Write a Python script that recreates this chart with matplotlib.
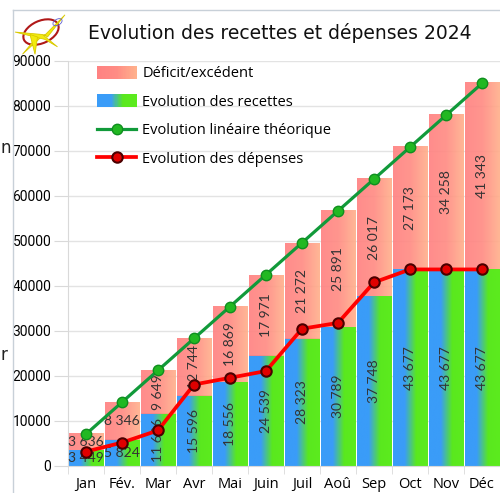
import matplotlib
matplotlib.use('Agg')
import matplotlib.pyplot as plt
import numpy as np
from matplotlib.colors import LinearSegmentedColormap
from matplotlib.legend_handler import HandlerBase
from matplotlib.patches import Rectangle, Ellipse, Polygon

mois = ['Jan', 'Fév.', 'Mar', 'Avr', 'Mai', 'Juin', 'Juil', 'Aoû', 'Sep',
        'Oct', 'Nov', 'Déc']
recettes = [3449, 5824, 11606, 15596, 18556, 24539, 28323, 30789, 37748,
            43677, 43677, 43677]
deficit = [3636, 8346, 9649, 12744, 16869, 17971, 21272, 25891, 26017,
           27173, 34258, 41343]
lineaire = [7085, 14170, 21255, 28340, 35425, 42510, 49595, 56680, 63765,
            70850, 77935, 85020]
depenses = [3200, 5200, 7900, 18100, 19600, 21100, 30500, 31800, 40800,
            43677, 43677, 43677]
horizontal_labels = ['Jan', 'Fév.']

BLUE_GREEN = ['#3a9cf8', '#3a9cf8', '#5ae81e', '#5ceb1e']
PINK_ORANGE = ['#ff8282', '#ff8c84', '#ffb08c']

cmap_rec = LinearSegmentedColormap.from_list('rec', BLUE_GREEN)
cmap_def = LinearSegmentedColormap.from_list('def', PINK_ORANGE)
grad = np.linspace(0, 1, 64).reshape(1, -1)


class GradientHandler(HandlerBase):
    def __init__(self, cmap):
        super().__init__()
        self.cmap = cmap

    def create_artists(self, legend, orig_handle, xdescent, ydescent,
                       width, height, fontsize, trans):
        n = 30
        arts = []
        for k in range(n):
            arts.append(Rectangle((-xdescent + width * k / n, -ydescent),
                                  width / n + 0.3, height,
                                  facecolor=self.cmap(k / (n - 1)),
                                  edgecolor='none', transform=trans))
        return arts


def fmt(v):
    return f'{v:,}'.replace(',', ' ')


fig = plt.figure(figsize=(5.0, 4.93), dpi=100)
ax = fig.add_axes([0.136, 0.0548, 0.864, 0.8215])

x = np.arange(len(mois))
w = 0.485
for i in x:
    ax.imshow(grad, cmap=cmap_rec, aspect='auto', zorder=2,
              extent=[i - w, i + w, 0, recettes[i]])
    ax.imshow(grad, cmap=cmap_def, aspect='auto', zorder=2, alpha=0.92,
              extent=[i - w, i + w, recettes[i], recettes[i] + deficit[i]])

lab_font = dict(fontsize=10, color='#333333', family='Lato', zorder=3,
                ha='center', va='center')
for i in x:
    rot = 0 if mois[i] in horizontal_labels else 90
    ax.text(i, recettes[i] / 2, fmt(recettes[i]), rotation=rot, **lab_font)
    ax.text(i, recettes[i] + deficit[i] / 2, fmt(deficit[i]), rotation=rot,
            **lab_font)

lin_style = dict(color='#119a3a', lw=2.3, marker='o', ms=7.5,
                 mfc='#22b822', mec='#0f8f1f', mew=1)
dep_style = dict(color='#ff0000', lw=2.7, marker='o', ms=7.5,
                 mfc='#e00000', mec='#4a0000', mew=1.5)
ax.plot(x, lineaire, zorder=4, **lin_style)
ax.plot(x, depenses, zorder=5, **dep_style)

h_def = Rectangle((0, 0), 1, 1)
h_rec = Rectangle((0, 0), 1, 1)
h_lin, = ax.plot([], [], **lin_style)
h_dep, = ax.plot([], [], **dep_style)
leg = ax.legend([h_def, h_rec, h_lin, h_dep],
                ['Déficit/excédent', 'Evolution des recettes',
                 'Evolution linéaire théorique', 'Evolution des dépenses'],
                handler_map={h_def: GradientHandler(cmap_def),
                             h_rec: GradientHandler(cmap_rec)},
                loc='upper left', bbox_to_anchor=(0.037, 1.021),
                frameon=False, handlelength=2.7, handleheight=1.0,
                labelspacing=0.9, handletextpad=0.4,
                prop={'family': 'Open Sans', 'size': 10.5})
leg.set_zorder(6)

ax.set_xlim(-0.5, 11.5)
ax.set_ylim(0, 90000)
ax.set_yticks(np.arange(0, 90001, 10000))
ax.set_xticks(x)
ax.set_xticklabels(mois, family='Open Sans', fontsize=10.5)
for t in ax.get_yticklabels():
    t.set_family('Roboto')
    t.set_fontsize(10)
ax.set_xticks(np.arange(-0.5, 12, 1), minor=True)
ax.tick_params(axis='x', which='major', length=0, pad=8)
ax.tick_params(axis='x', which='minor', length=6, color='#d9d9d9')
ax.tick_params(axis='y', length=10, color='#d9d9d9', pad=2)
ax.grid(axis='y', color='#e3e3e3', lw=1, zorder=0)
ax.set_axisbelow(True)
for s in ['top', 'right']:
    ax.spines[s].set_visible(False)
for s in ['left', 'bottom']:
    ax.spines[s].set_color('#d9d9d9')

fig.text(0.56, 0.933, 'Evolution des recettes et dépenses 2024',
         ha='center', va='center', fontsize=13.5, color='#111111',
         family='DejaVu Sans')

# cadre et logo
fig.add_artist(plt.Line2D([0.026, 0.026], [0.0, 0.98], color='#c8d0d8',
                          lw=1, transform=fig.transFigure))
fig.add_artist(plt.Line2D([0.026, 1.0], [0.98, 0.98], color='#c8d0d8',
                          lw=1, transform=fig.transFigure))
fig.add_artist(Ellipse((0.082, 0.935), 0.075, 0.045, angle=25, fill=False,
                       ec='#b01818', lw=1.5, transform=fig.transFigure))
fig.add_artist(Polygon([[0.045, 0.89], [0.078, 0.93], [0.086, 0.925],
                        [0.13, 0.97], [0.095, 0.925], [0.088, 0.93]],
                       closed=True, fc='#f2ea10', ec='#d8c800', lw=0.6,
                       transform=fig.transFigure))
fig.add_artist(Polygon([[0.03, 0.935], [0.085, 0.93], [0.115, 0.905],
                        [0.09, 0.92]], closed=True, fc='#f2ea10',
                       ec='#d8c800', lw=0.6, transform=fig.transFigure))
fig.add_artist(Polygon([[0.06, 0.93], [0.07, 0.89], [0.075, 0.925]],
                       closed=True, fc='#f2ea10', ec='#d8c800', lw=0.6,
                       transform=fig.transFigure))
fig.add_artist(Ellipse((0.115, 0.955), 0.02, 0.012, angle=30, fill=False,
                       ec='#6060d0', lw=0.6, transform=fig.transFigure))
fig.text(0.002, 0.69, 'n', fontsize=12, color='#222222')
fig.text(0.002, 0.27, 'r', fontsize=12, color='#222222')

fig.savefig('out.png', dpi=100)
